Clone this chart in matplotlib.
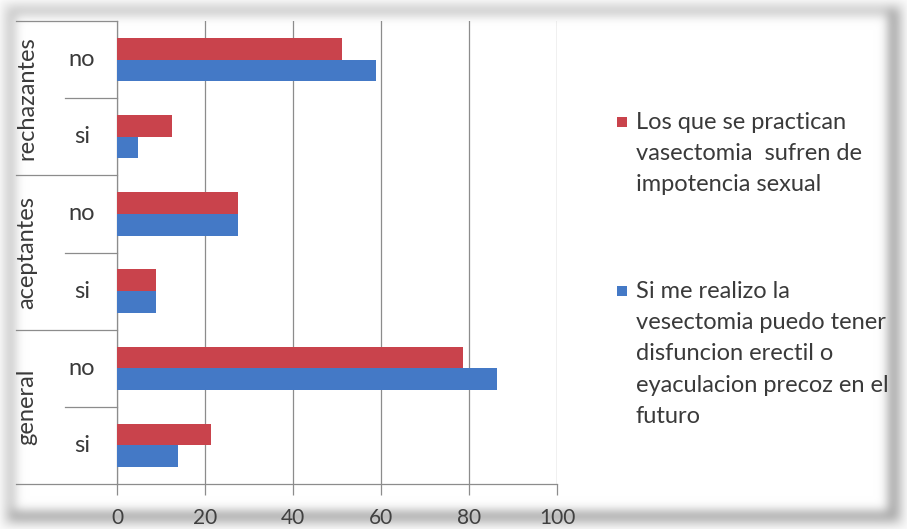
import numpy as np
import matplotlib
matplotlib.use("Agg")
import matplotlib.pyplot as plt
import matplotlib.transforms as mtransforms
from matplotlib.patches import Rectangle

plt.rcParams['font.family'] = ['Lato', 'DejaVu Sans']

# ---- data ----
groups = ["general", "aceptantes", "rechazantes"]
answers = ["si", "no"]
series_names = [
    "Los que se practican\nvasectomia  sufren de\nimpotencia sexual",
    "Si me realizo la\nvesectomia puedo tener\ndisfuncion erectil o\neyaculacion precoz en el\nfuturo",
]
# order: general si, general no, aceptantes si, aceptantes no, rechazantes si, rechazantes no
impotencia = [21.3, 78.7, 8.8, 27.6, 12.4, 51.2]
disfuncion = [13.8, 86.3, 8.8, 27.6, 4.7, 58.8]
xticks = [0, 20, 40, 60, 80, 100]

RED = "#C9434C"
BLUE = "#4479C6"
GRID = "#8C8C8C"
TEXT = "#3A3A3A"

W, H = 907, 529
fig = plt.figure(figsize=(W / 100, H / 100), dpi=100)

# ---- soft shadowed frame around the chart area ----
bg = fig.add_axes([0, 0, 1, 1], zorder=-5)
yy, xx = np.mgrid[0:H, 0:W]
x0, x1, y0, y1 = 8, 898, 8, 520
inside = (xx >= x0) & (xx <= x1) & (yy >= y0) & (yy <= y1)
t = 7
ring = inside & ~((xx >= x0 + t) & (xx <= x1 - t) & (yy >= y0 + t) & (yy <= y1 - t))
stroke = np.zeros((H, W))
stroke[ring] = 0.8
# heavier on the right and bottom edges for a drop shadow
stroke[inside & ((xx >= x1 - t - 3) | (yy >= y1 - t - 2))] = 1.1


def blur(a, s):
    k = np.arange(-3 * s, 3 * s + 1)
    g = np.exp(-k ** 2 / (2 * s * s))
    g /= g.sum()
    a = np.apply_along_axis(lambda r: np.convolve(r, g, mode="same"), 1, a)
    a = np.apply_along_axis(lambda c: np.convolve(c, g, mode="same"), 0, a)
    return a


dark = 0.33 * blur(stroke, 5) + 0.06 * blur((~inside).astype(float), 4)
img = np.clip(1 - dark, 0, 1)
bg.imshow(np.dstack([img, img, img]), extent=[0, W, H, 0], aspect="auto")
bg.set_xlim(0, W)
bg.set_ylim(H, 0)
bg.set_axis_off()

# ---- main chart ----
left, right = 117 / W, 557 / W
bottom, top = (H - 484) / H, (H - 21) / H
ax = fig.add_axes([left, bottom, right - left, top - bottom])
ax.set_facecolor("none")

n = len(impotencia)
pos = np.arange(n)
bh = 0.28
ax.barh(pos + bh / 2, impotencia, height=bh, color=RED, zorder=3)
ax.barh(pos - bh / 2, disfuncion, height=bh, color=BLUE, zorder=3)

ax.set_xlim(0, 100)
ax.set_ylim(-0.5, n - 0.5)
ax.set_xticks(xticks)
ax.set_xticklabels([str(v) for v in xticks])
ax.set_yticks([])
ax.xaxis.grid(True, color=GRID, linewidth=0.9, zorder=0)
for s in ["top", "right"]:
    ax.spines[s].set_visible(False)
for s in ["bottom", "left"]:
    ax.spines[s].set_color(GRID)
    ax.spines[s].set_linewidth(0.9)
ax.tick_params(axis="x", length=8, color=GRID, width=0.9, labelsize=15,
               labelcolor="#404040", pad=9)

# ---- two-level category labels on the left ----
tr = mtransforms.blended_transform_factory(ax.transAxes, ax.transData)
fx = lambda px: (px - 117) / (557 - 117)

for i in range(n):
    ax.text(fx(82), pos[i], answers[i % 2], transform=tr, ha="center", va="center",
            fontsize=17, color=TEXT)
for g, name in enumerate(groups):
    ax.text(fx(27), 2 * g + 0.5, name, transform=tr, ha="center", va="center",
            rotation=90, fontsize=17, color=TEXT)

for b in [-0.5, 1.5, 3.5, 5.5]:
    ax.plot([fx(16), 0], [b, b], transform=tr, color=GRID, linewidth=0.9, clip_on=False)
for b in [0.5, 2.5, 4.5]:
    ax.plot([fx(65), 0], [b, b], transform=tr, color=GRID, linewidth=0.9, clip_on=False)

# ---- legend (square key beside the first line of each wrapped label) ----
legend_items = [(series_names[0], RED, 122), (series_names[1], BLUE, 291)]
for label, color, ypx in legend_items:
    fig.patches.append(Rectangle((617 / W, 1 - (ypx + 5) / H), 10 / W, 10 / H,
                                 transform=fig.transFigure, facecolor=color,
                                 edgecolor="none"))
    fig.text(636 / W, 1 - (ypx - 10) / H, label, ha="left", va="top",
             fontsize=17, color=TEXT, linespacing=1.6)

fig.savefig("out.png", dpi=100)
